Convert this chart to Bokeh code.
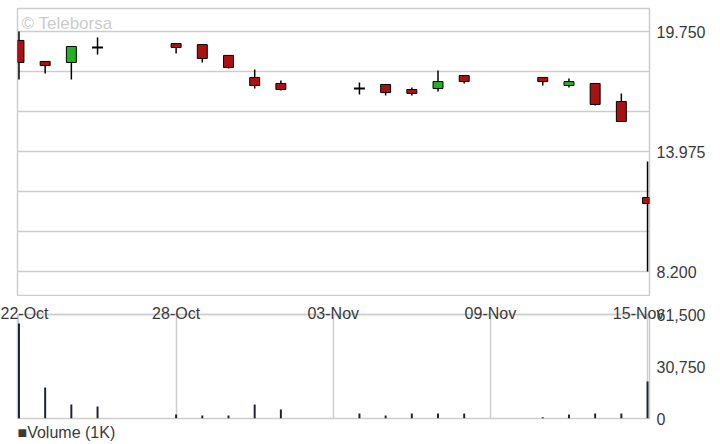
import pandas as pd
from bokeh.plotting import figure
from bokeh.layouts import column
from bokeh.models import (Range1d, FixedTicker, NumeralTickFormatter, Grid, Label,
                          ColumnDataSource, Title, DatetimeAxis)
from bokeh.embed import file_html
from bokeh.resources import INLINE

# ---------------- data ----------------
dates = ["2019-10-22", "2019-10-23", "2019-10-24", "2019-10-25", "2019-10-28",
         "2019-10-29", "2019-10-30", "2019-10-31", "2019-11-01", "2019-11-04",
         "2019-11-05", "2019-11-06", "2019-11-07", "2019-11-08", "2019-11-11",
         "2019-11-12", "2019-11-13", "2019-11-14", "2019-11-15"]
opens  = [19.32, 18.31, 18.26, 18.98, 19.17, 19.12, 18.60, 17.54, 17.25, 17.01,
          17.20, 16.96, 17.01, 17.63, 17.54, 17.15, 17.25, 16.38, 11.76]
highs  = [19.75, 18.31, 19.03, 19.46, 19.17, 19.12, 18.60, 17.92, 17.39, 17.30,
          17.20, 17.06, 17.87, 17.63, 17.54, 17.49, 17.25, 16.77, 13.49]
lows   = [17.44, 17.73, 17.44, 18.64, 18.69, 18.26, 17.97, 17.01, 16.91, 16.72,
          16.67, 16.67, 16.86, 17.25, 17.15, 17.06, 16.19, 15.42, 8.20]
closes = [18.26, 18.11, 19.03, 18.98, 18.98, 18.45, 18.02, 17.15, 16.96, 17.01,
          16.81, 16.77, 17.34, 17.34, 17.34, 17.34, 16.24, 15.42, 11.47]
volumes = [56200, 18300, 8300, 7100, 2400, 1800, 1800, 8300, 5300, 3000,
           1800, 3000, 3000, 3000, 700, 2400, 3000, 3000, 21900]

date_ticks = ["2019-10-22", "2019-10-28", "2019-11-03", "2019-11-09", "2019-11-15"]
date_tick_labels = ["22-Oct", "28-Oct", "03-Nov", "09-Nov", "15-Nov"]
price_ticks = [8.2, 13.975, 19.75]
volume_ticks = [0, 30750, 61500]
volume_legend = "■Volume (1K)"

# ---------------- styles ----------------
FONT = "Liberation Sans"
FS = "16px"
TXT = "#3a3a3a"
GRID = "#cdcdcd"
RED = "#a81212"
GREEN = "#25b025"
VOLC = "#1c2230"
NB = "\u00a0"
pad_right = [0, 0, 0, 0, 4]   # non-breaking spaces nudging the last date label left

DAY = 86400000.0
x = pd.to_datetime(dates)
tick_x = pd.to_datetime(date_ticks)
tick_ms = [t.value / 1e6 for t in tick_x]
x_range = Range1d(start=x[0] - pd.Timedelta(hours=1.35), end=x[-1] + pd.Timedelta(hours=1.8))

p_lo, p_hi = min(lows), max(highs)
step = (p_hi - p_lo) / 6
grid_vals = [p_lo + k * step for k in range(7)]


def style_axis(ax):
    ax.major_tick_line_color = None
    ax.minor_tick_line_color = None
    ax.major_tick_out = 0
    ax.major_tick_in = 0
    ax.minor_tick_out = 0
    ax.major_label_text_font = FONT
    ax.major_label_text_font_size = FS
    ax.major_label_text_color = TXT


def style_yaxis(ax, ticks, fmt):
    style_axis(ax)
    ax.ticker = FixedTicker(ticks=ticks)
    ax.formatter = NumeralTickFormatter(format=fmt)
    ax.axis_line_color = None
    ax.major_label_standoff = 7


# ---------------- price panel ----------------
p = figure(frame_width=632, frame_height=288, x_range=x_range,
           y_range=Range1d(p_lo - 0.624 * step, p_hi + 0.575 * step),
           x_axis_type="datetime", x_axis_location=None, y_axis_location="right",
           output_backend="svg", toolbar_location=None,
           min_border_left=17, min_border_right=63, min_border_top=8, min_border_bottom=0)
p.outline_line_color = GRID
p.outline_line_width = 1.5
p.xgrid.visible = False
p.ygrid.ticker = FixedTicker(ticks=grid_vals)
p.ygrid.grid_line_color = GRID
p.ygrid.grid_line_width = 1.5
style_yaxis(p.yaxis[0], price_ticks, "0.000")

body_idx = [i for i in range(len(dates)) if opens[i] != closes[i]]
doji_idx = [i for i in range(len(dates)) if opens[i] == closes[i]]
p.segment(x0=x, x1=x, y0=lows, y1=highs, line_color="black", line_width=1.5)
bsrc = ColumnDataSource(dict(x=[x[i] for i in body_idx],
                             top=[max(opens[i], closes[i]) for i in body_idx],
                             bot=[min(opens[i], closes[i]) for i in body_idx],
                             color=[GREEN if closes[i] > opens[i] else RED for i in body_idx]))
p.vbar(x="x", width=0.38 * DAY, top="top", bottom="bot", source=bsrc,
       fill_color="color", line_color="black", line_width=1)
half = pd.Timedelta(hours=0.21 * 24)
p.segment(x0=[x[i] - half for i in doji_idx], x1=[x[i] + half for i in doji_idx],
          y0=[opens[i] for i in doji_idx], y1=[closes[i] for i in doji_idx],
          line_color="black", line_width=2)

p.add_layout(Label(x=4, y=283, x_units="screen", y_units="screen", text="© Teleborsa",
                   text_baseline="top", text_color="#cccccc", text_font=FONT,
                   text_font_size="17px"))

# ---------------- volume panel ----------------
v = figure(frame_width=632, frame_height=104, x_range=x_range,
           y_range=Range1d(0, volume_ticks[-1]),
           x_axis_type="datetime", x_axis_location=None, y_axis_location="right",
           output_backend="svg", toolbar_location=None,
           min_border_left=17, min_border_right=63, min_border_top=18, min_border_bottom=0)
v.outline_line_color = GRID
v.outline_line_width = 1.5
v.xgrid.visible = False
v.ygrid.visible = False
style_yaxis(v.yaxis[0], volume_ticks, "0,0")

xa = DatetimeAxis()
style_axis(xa)
xa.ticker = FixedTicker(ticks=tick_ms)
xa.major_label_overrides = {t: lab + NB * b for t, lab, b in zip(tick_ms, date_tick_labels, pad_right)}
xa.axis_line_color = GRID
xa.axis_line_width = 1.5
xa.major_label_standoff = -7
v.add_layout(xa, "above")
v.add_layout(Grid(dimension=0, ticker=xa.ticker, grid_line_color=GRID, grid_line_width=1.5))

v.vbar(x=x, width=0.075 * DAY, top=volumes, bottom=0,
       fill_color=VOLC, line_color=VOLC, line_width=0)

v.add_layout(Title(text=volume_legend, align="left", offset=0, standoff=6,
                   text_font=FONT, text_font_size=FS, text_font_style="normal",
                   text_color=TXT), "below")

layout = column(p, v, spacing=0)
open("out.html", "w").write(file_html(layout, INLINE))
